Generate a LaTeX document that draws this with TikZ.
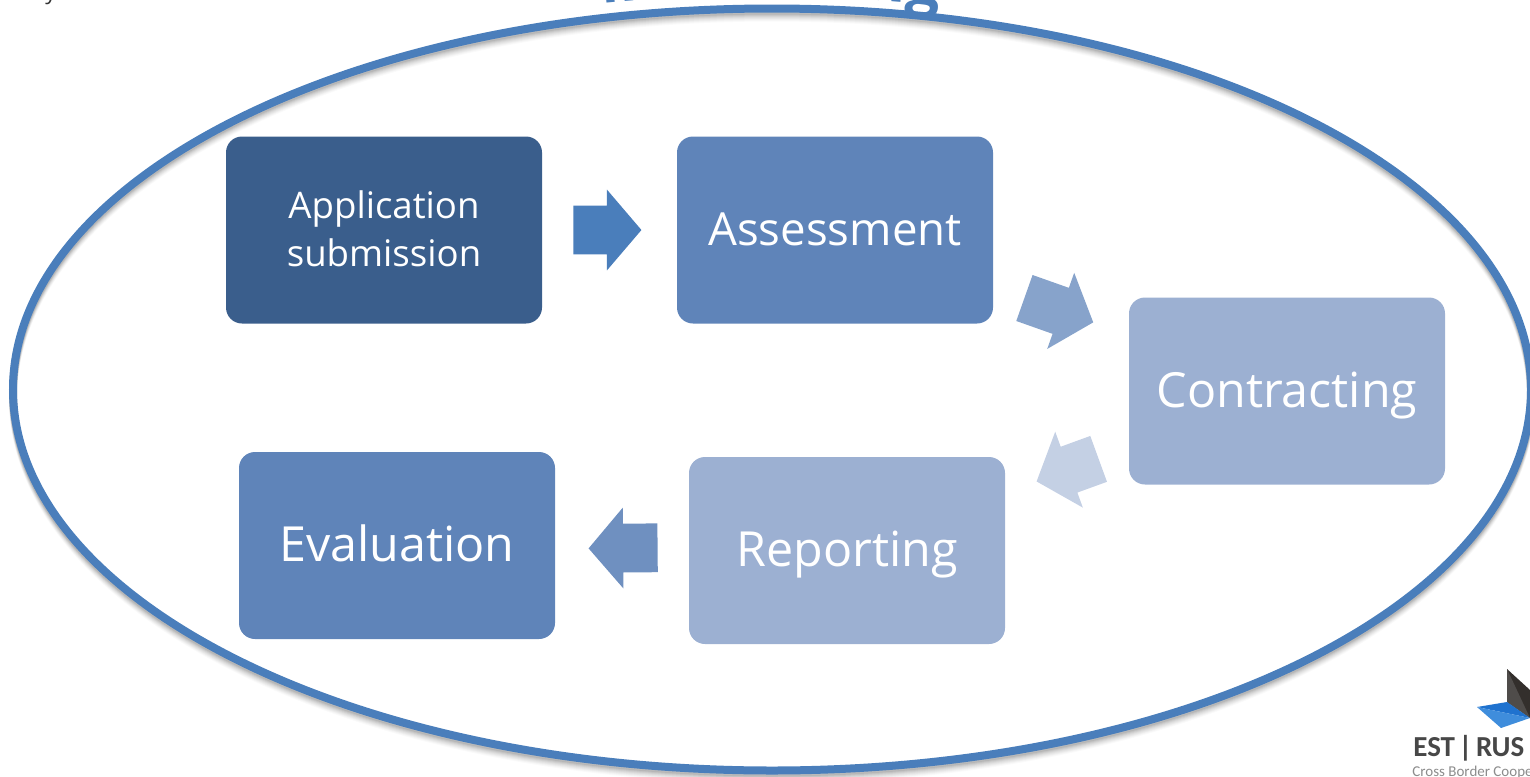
\documentclass[tikz,border=0pt]{standalone}
\usepackage{fontspec}
\setmainfont{Open Sans}
\newfontfamily\logofont{Carlito}
\usetikzlibrary{shapes.arrows,decorations.text}
\definecolor{ringblue}{HTML}{4A7EBB}
\definecolor{stepdark}{HTML}{3A5E8C}
\definecolor{stepmid}{HTML}{5F84B9}
\definecolor{steplight}{HTML}{9CB0D2}
\definecolor{logoblue}{HTML}{1F72CF}
\definecolor{logosky}{HTML}{3F8DDC}
\definecolor{logodark}{HTML}{332F2C}
\definecolor{logogray}{HTML}{4F4C4A}
\newcommand{\stepline}[2]{\raisebox{#1}[0pt][0pt]{#2}}
\tikzset{
  x=0.5pt,y=-0.5pt,
  stepbox/.style={rounded corners=8pt,minimum width=158pt,minimum height=93.5pt,inner sep=0pt,text=white,align=center,anchor=center},
  arrowbox/.style={single arrow,text height=24pt,text depth=0pt,text width=0pt,single arrow head extend=8pt,single arrow tip angle=99,inner sep=0pt,anchor=center},
  ring/.style={line width=4pt,draw=ringblue},
}
\begin{document}
\begin{tikzpicture}
\useasboundingbox (0,0) rectangle (1530,776);
\begin{scope}
\clip (0,0) rectangle (1530,776);
% stray caption fragment
\node[text=black!80,font=\fontsize{11}{13}\selectfont,anchor=base] (stray) at (51,-1) {y};
% curved title
\path[postaction={decorate,decoration={text along path,text align=center,
  text={|\fontsize{30.5}{34}\selectfont\bfseries\color{ringblue}|Monitoring}}}]
  (583,6) .. controls (683,-8) and (843,-8) .. (958,9);
% ring with soft shadow
\foreach \o/\a in {9/0.02,8/0.025,7/0.03,6/0.035,5/0.04,4/0.05,3/0.06,2/0.07}{
  \draw[line width=4pt,black,opacity=\a] (772,389.5+\o) ellipse [x radius=759,y radius=381];
}
\draw[ring] (772,389.5) ellipse [x radius=759,y radius=381];
% steps
\node[stepbox,fill=stepdark,font=\fontsize{18.3}{24}\selectfont] (app) at (384,230) {\stepline{-6.25pt}{Application}\\\stepline{-6.25pt}{submission}};
\node[stepbox,fill=stepmid,font=\fontsize{22.8}{28}\selectfont] (ass) at (835,230) {\stepline{-7.5pt}{Assessment}};
\node[stepbox,fill=steplight,font=\fontsize{24.2}{28}\selectfont] (con) at (1287,391) {\stepline{-8pt}{Contracting}};
\node[stepbox,fill=steplight,font=\fontsize{24.2}{28}\selectfont] (rep) at (847,550.5) {\stepline{-7.75pt}{Reporting}};
\node[stepbox,fill=stepmid,font=\fontsize{24.2}{28}\selectfont] (eva) at (397,545.5) {\stepline{-7.75pt}{Evaluation}};
% block arrows
\node[arrowbox,fill=ringblue,minimum height=34pt] (a1) at (597,230) {};
\node[arrowbox,fill=stepmid!75!white,minimum height=36.5pt,rotate=-19.5] (a2) at (1049,306.7) {};
\node[arrowbox,fill=steplight!60!white,minimum height=33pt,rotate=200] (a3) at (1077.4,466.6) {};
\node[arrowbox,fill=stepmid!90!white,minimum height=34.5pt,rotate=180.5] (a4) at (633.5,548) {};
% logo
\fill[logodark] (1507,669) -- (1530,690) -- (1530,718) -- (1507,702) -- cycle;
\fill[logogray] (1507,669) -- (1530,718) -- (1507,702) -- cycle;
\fill[logoblue] (1477,707) -- (1507,702) -- (1530,718) -- cycle;
\fill[logosky] (1477,707) -- (1530,718) -- (1501,728) -- cycle;
\node[font=\logofont\bfseries\fontsize{14.5}{17}\selectfont,text=black!72,anchor=base west,inner sep=0pt] (logo) at (1413,756) {EST\hspace{1.8pt}|\hspace{1.8pt}RUS};
\node[font=\logofont\fontsize{7.5}{9}\selectfont,text=black!45,anchor=base west,inner sep=0pt] (tag) at (1412,776) {Cross Border Cooperation};
\end{scope}
\end{tikzpicture}
\end{document}
